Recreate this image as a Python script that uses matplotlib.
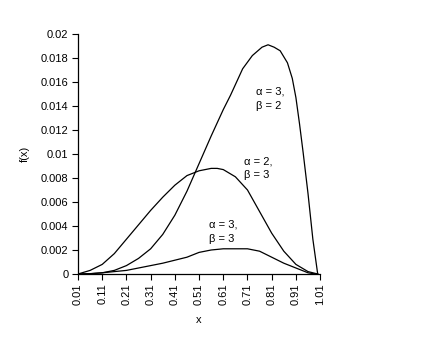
import matplotlib
matplotlib.use("Agg")
import matplotlib.pyplot as plt
from matplotlib.ticker import FuncFormatter

# values
x_a3_b2 = [0.01, 0.06, 0.11, 0.16, 0.21, 0.26, 0.31, 0.36, 0.41, 0.46, 0.51,
           0.56, 0.61, 0.64, 0.69, 0.73, 0.77, 0.795, 0.82, 0.845, 0.875,
           0.895, 0.91, 0.925, 0.94, 0.96, 0.98, 1.00]
f_a3_b2 = [0, 0.00003, 0.0001, 0.0003, 0.0007, 0.0013, 0.0021, 0.0033, 0.0049,
           0.0069, 0.0092, 0.0115, 0.0137, 0.0149, 0.0171, 0.0182, 0.0189,
           0.0191, 0.0189, 0.0186, 0.0176, 0.0163, 0.0147, 0.0125, 0.0101,
           0.0067, 0.0029, 0]

x = [0.01, 0.06, 0.11, 0.16, 0.21, 0.26, 0.31, 0.36, 0.41, 0.46, 0.51, 0.535,
     0.56, 0.585, 0.61, 0.66, 0.71, 0.76, 0.81, 0.86, 0.91, 0.96, 0.98, 1.00]
f_a2_b3 = [0, 0.0003, 0.0008, 0.0017, 0.0029, 0.0041, 0.0053, 0.0064, 0.0074,
           0.0082, 0.0086, 0.0087, 0.0088, 0.0088, 0.0087, 0.0081, 0.0070,
           0.0052, 0.0034, 0.0019, 0.0008, 0.0002, 0.0001, 0]
f_a3_b3 = [0, 0.00002, 0.0001, 0.0002, 0.0003, 0.0005, 0.0007, 0.0009, 0.00115,
           0.0014, 0.0018, 0.0019, 0.0020, 0.00205, 0.0021, 0.0021, 0.0021,
           0.0019, 0.0014, 0.0009, 0.0005, 0.0001, 0.00003, 0]

x_ticks = [0.01, 0.11, 0.21, 0.31, 0.41, 0.51, 0.61, 0.71, 0.81, 0.91, 1.01]
x_tick_labels = ["0.01", "0.11", "0.21", "0.31", "0.41", "0.51",
                 "0.61", "0.71", "0.81", "0.91", "1.01"]
y_ticks = [0, 0.002, 0.004, 0.006, 0.008, 0.01, 0.012, 0.014, 0.016, 0.018, 0.02]

labels = ["\u03b1 = 3,\n\u03b2 = 2", "\u03b1 = 2,\n\u03b2 = 3", "\u03b1 = 3,\n\u03b2 = 3"]
label_pos = [(0.745, 0.0146), (0.696, 0.0088), (0.551, 0.00354)]

plt.rcParams["font.family"] = ["Liberation Sans", "DejaVu Sans"]
plt.rcParams["font.size"] = 8

fig = plt.figure(figsize=(4.24, 3.54), dpi=100)
ax = fig.add_axes([0.184, 0.226, 0.571, 0.678])

ax.plot(x_a3_b2, f_a3_b2, color="black", lw=0.9)
ax.plot(x, f_a2_b3, color="black", lw=0.9)
ax.plot(x, f_a3_b3, color="black", lw=0.9)

for txt, (tx, ty) in zip(labels, label_pos):
    ax.text(tx, ty, txt, ha="left", va="center", fontsize=8, linespacing=1.5)

ax.set_xlim(0.01, 1.01)
ax.set_ylim(0, 0.02)
ax.set_xticks(x_ticks)
ax.set_xticklabels(x_tick_labels, rotation=90)
ax.set_yticks(y_ticks)
ax.yaxis.set_major_formatter(FuncFormatter(lambda v, p: "%g" % round(v, 4)))
ax.tick_params(direction="out", length=4, width=0.8, colors="black", pad=3)

for s in ("top", "right"):
    ax.spines[s].set_visible(False)
for s in ("left", "bottom"):
    ax.spines[s].set_linewidth(0.9)

ax.set_xlabel("x", labelpad=7)
ax.set_ylabel("f(x)", labelpad=8)

fig.savefig("out.png", dpi=100)
